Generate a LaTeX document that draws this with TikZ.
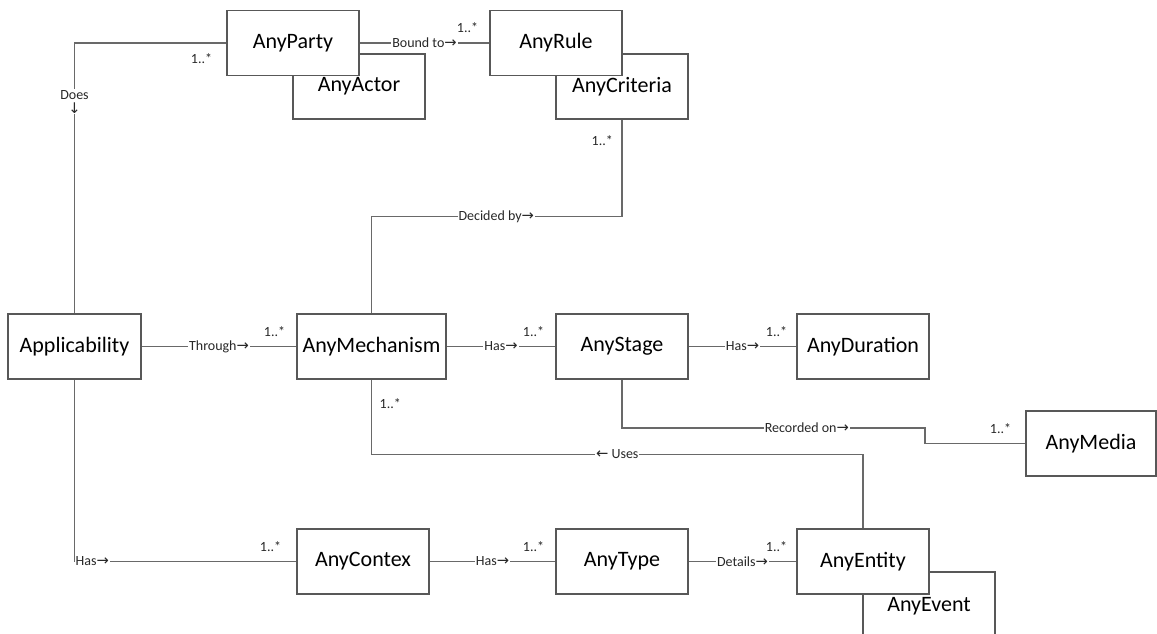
\documentclass[tikz,border=0pt]{standalone}
\usepackage{fontspec}
\setmainfont{Carlito}
\newfontfamily\symfont{DejaVu Sans}
\newcommand{\toarr}{{\symfont\scalebox{1.05}{→}}}
\newcommand{\backarr}{{\symfont\scalebox{1.05}{←}}}
\newcommand{\downarr}{{\symfont\scalebox{1.05}{↓}}}
\definecolor{edgegray}{RGB}{105,105,105}
\definecolor{boxgray}{RGB}{88,88,88}
\definecolor{lbltext}{RGB}{40,40,40}
\tikzset{
  box/.style={draw=boxgray, line width=1.4pt, fill=white, minimum width=132pt,
    minimum height=65pt, inner sep=0pt, font=\fontsize{22}{24}\selectfont},
  conn/.style={draw=edgegray, line width=1.2pt},
  lbl/.style={fill=white, inner sep=1pt, text=lbltext, font=\fontsize{14}{16}\selectfont},
  mult/.style={inner sep=2pt, text=lbltext, font=\fontsize{14}{16}\selectfont}
}
\begin{document}
\begin{tikzpicture}[x=1pt,y=-1pt]
\useasboundingbox (0,0) rectangle (1157,634);
% Boxes (back ones first)
\node[box] (actor) at (359,86.5) {AnyActor};
\node[box] (party) at (293,43) {AnyParty};
\node[box] (crit) at (622,86.5) {AnyCriteria};
\node[box] (rule) at (556,43) {AnyRule};
\node[box, minimum width=133pt] (app) at (74.5,346.5) {Applicability};
\node[box, minimum width=149pt] (mech) at (371.5,346.5) {AnyMechanism};
\node[box] (stage) at (622,346.5) {AnyStage};
\node[box] (dur) at (863,346.5) {AnyDuration};
\node[box, minimum width=130pt] (media) at (1091,443.5) {AnyMedia};
\node[box] (ctx) at (363,561.5) {AnyContex};
\node[box] (type) at (622,561.5) {AnyType};
\node[box, minimum height=68pt] (event) at (929,606) {AnyEvent};
\node[box] (ent) at (863,561.5) {AnyEntity};
% Connectors
\coordinate (recbend) at (925,428);
\draw[conn] (app.north) -- node[lbl, align=center, pos=0.782] {Does\\[-2pt]\downarr} (app.north |- party.west) -- (party.west);
\draw[conn] (party.east) -- node[lbl] {Bound to\toarr} (rule.west);
\draw[conn] (crit.south) -- ++(0,97) -| node[lbl, pos=0.251] {Decided by\toarr} (mech.north);
\draw[conn] (app.east) -- node[lbl] {Through\toarr} (mech.west);
\draw[conn] (mech.east) -- node[lbl] {Has\toarr} (stage.west);
\draw[conn] (stage.east) -- node[lbl] {Has\toarr} (dur.west);
\draw[conn] (stage.south) |- node[lbl, pos=0.805] {Recorded on\toarr} (recbend) |- (media.west);
\draw[conn] (ent.north) -- ++(0,-74) -| node[lbl, pos=0.25] {\backarr\ Uses} (mech.south);
\draw[conn] (app.south) |- node[lbl, pos=0.54] {Has\toarr} (ctx.west);
\draw[conn] (ctx.east) -- node[lbl] {Has\toarr} (type.west);
\draw[conn] (type.east) -- node[lbl] {Details\toarr} (ent.west);
% Multiplicities
\node[mult, anchor=north east] (mparty) at ([xshift=-12pt,yshift=-8pt]party.west) {1..*};
\node[mult, anchor=south east] (mrule) at ([xshift=-9pt,yshift=8pt]rule.west) {1..*};
\node[mult, anchor=north east] (mcrit) at ([xshift=-7pt,yshift=-14pt]crit.south) {1..*};
\node[mult, anchor=south east] (mmech) at ([xshift=-9pt,yshift=8pt]mech.west) {1..*};
\node[mult, anchor=north west] (mmechb) at ([xshift=6pt,yshift=-17pt]mech.south) {1..*};
\node[mult, anchor=south east] (mstage) at ([xshift=-9pt,yshift=8pt]stage.west) {1..*};
\node[mult, anchor=south east] (mdur) at ([xshift=-7pt,yshift=8pt]dur.west) {1..*};
\node[mult, anchor=south east] (mmedia) at ([xshift=-12pt,yshift=8pt]media.west) {1..*};
\node[mult, anchor=south east] (mctx) at ([xshift=-13pt,yshift=8pt]ctx.west) {1..*};
\node[mult, anchor=south east] (mtype) at ([xshift=-9pt,yshift=8pt]type.west) {1..*};
\node[mult, anchor=south east] (ment) at ([xshift=-7pt,yshift=8pt]ent.west) {1..*};
\end{tikzpicture}
\end{document}
